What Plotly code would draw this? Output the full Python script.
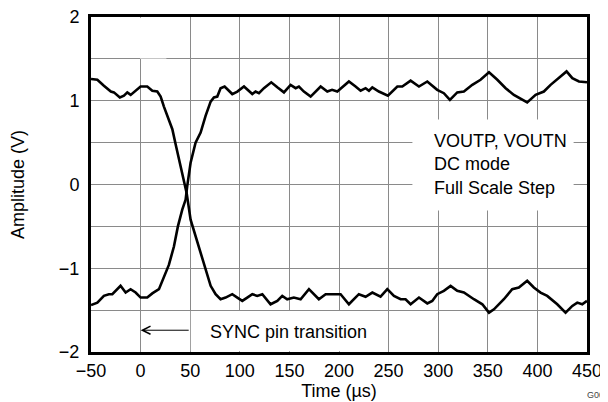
import plotly.graph_objects as go

# falling output (starts high, ends low)
t_fall = [-50, -43.6, -37, -30, -26.9,
          -20.9, -16.8, -13.4, -10, -5,
          0, 6.7, 11.8, 16.8, 20.2,
          23.5, 27.5, 32, 35.3, 38.6,
          43, 46.4, 50.4, 55.4, 60.5,
          65.5, 70.6, 75.6, 80.6, 85.7,
          92.4, 97.5, 102.5, 107.5, 112.6,
          117.6, 122.7, 131, 137.8, 142.8,
          147.8, 154.5, 161.3, 169.7, 174.7,
          179.7, 186.5, 194.9, 201.6, 210,
          220, 226.8, 233.6, 241.9, 248.7,
          255.4, 262.1, 267.1, 272.2, 280.6,
          289, 294, 299, 305.7, 312.5,
          319.2, 325.9, 336, 344.5, 351.2,
          356.2, 366.2, 374.6, 381.3, 389.7,
          396.4, 403.2, 409.9, 420, 428.4,
          435.2, 440.2, 445.2, 450]
v_fall = [1.26, 1.25, 1.18, 1.11, 1.10,
          1.04, 1.06, 1.10, 1.07, 1.12,
          1.17, 1.17, 1.12, 1.11, 1.05,
          0.93, 0.80, 0.66, 0.48, 0.30,
          0.10, -0.10, -0.42, -0.62, -0.82,
          -1.01, -1.21, -1.31, -1.37, -1.35,
          -1.31, -1.35, -1.39, -1.35, -1.31,
          -1.33, -1.31, -1.43, -1.39, -1.33,
          -1.37, -1.35, -1.37, -1.25, -1.31,
          -1.37, -1.31, -1.31, -1.31, -1.43,
          -1.31, -1.34, -1.29, -1.34, -1.25,
          -1.33, -1.37, -1.37, -1.43, -1.35,
          -1.42, -1.39, -1.31, -1.27, -1.21,
          -1.27, -1.29, -1.37, -1.43, -1.53,
          -1.49, -1.37, -1.25, -1.23, -1.15,
          -1.23, -1.29, -1.33, -1.43, -1.53,
          -1.45, -1.41, -1.43, -1.39]

# rising output (starts low, ends high)
t_rise = [-50, -43.6, -37, -32, -28.5,
          -20.2, -15.1, -10.1, -5, 0,
          6.7, 11.8, 18.5, 23.5, 28.5,
          33.6, 37.6, 42, 45.4, 47,
          50.4, 55.4, 60.5, 65.5, 70.6,
          73.9, 77.3, 80.6, 84.7, 92.4,
          97.5, 104.2, 112.6, 115.9, 119.3,
          124.3, 131.7, 137.8, 144.5, 151.2,
          156.3, 159.6, 164.6, 171.4, 181.5,
          188.2, 193, 198.3, 210, 216.7,
          221.8, 226.8, 230.2, 233.6, 240.2,
          249.3, 258.8, 263.8, 272.2, 280.6,
          289, 299, 305.7, 311.8, 319.2,
          325.9, 334.4, 342.7, 351.2, 359.6,
          368, 376.3, 389.7, 398.2, 406.5,
          413.3, 420, 429.4, 435.2, 441.9,
          450]
v_rise = [-1.44, -1.41, -1.33, -1.31, -1.31,
          -1.21, -1.29, -1.25, -1.29, -1.35,
          -1.35, -1.30, -1.25, -1.11, -0.96,
          -0.74, -0.50, -0.30, -0.18, -0.02,
          0.26, 0.50, 0.62, 0.82, 0.99,
          1.04, 1.05, 1.15, 1.17, 1.08,
          1.11, 1.17, 1.08, 1.11, 1.09,
          1.15, 1.22, 1.16, 1.10, 1.19,
          1.15, 1.17, 1.11, 1.05, 1.17,
          1.11, 1.13, 1.11, 1.23, 1.17,
          1.12, 1.15, 1.12, 1.16, 1.11,
          1.06, 1.17, 1.17, 1.24, 1.17,
          1.23, 1.13, 1.09, 1.01, 1.10,
          1.11, 1.19, 1.25, 1.34, 1.25,
          1.15, 1.07, 0.98, 1.07, 1.11,
          1.19, 1.26, 1.35, 1.27, 1.23,
          1.22]

y_tickvals = [-2, -1.5, -1, -0.5, 0, 0.5, 1, 1.5, 2]
y_ticktext = ["\u22122", "", "\u22121", "", "0", "", "1", "", "2"]

FONT = "Liberation Sans, Arial, sans-serif"
GRID = "#8a8a8a"

fig = go.Figure()

fig.add_trace(go.Scatter(x=t_fall, y=v_fall, mode="lines", name="VOUTP",
                         line=dict(color="black", width=2.6)))
fig.add_trace(go.Scatter(x=t_rise, y=v_rise, mode="lines", name="VOUTN",
                         line=dict(color="black", width=2.6)))

# white boxes that hide the grid behind labels
boxes = [(-0.6, 26, 1.505, 1.99), (274, 436.5, -0.31, 0.776), (50.6, 240, -1.99, -1.51)]
for x0, x1, y0, y1 in boxes:
    fig.add_shape(type="rect", xref="x", yref="y", x0=x0, x1=x1, y0=y0, y1=y1,
                  fillcolor="white", line=dict(width=0), layer="between")

fig.add_annotation(x=293.5, y=0.233, xref="x", yref="y", xanchor="left", yanchor="middle",
                   align="left", showarrow=False,
                   text="VOUTP, VOUTN<br>DC mode<br>Full Scale Step",
                   font=dict(family=FONT, size=18, color="black"))

fig.add_annotation(x=67.5, y=-1.76, xref="x", yref="y", xanchor="left", yanchor="middle",
                   showarrow=False, text="SYNC pin transition",
                   font=dict(family=FONT, size=18, color="black"))

fig.add_annotation(x=0, y=-1.74, xref="x", yref="y", ax=50, ay=-1.74, axref="x", ayref="y",
                   text="", showarrow=True, arrowhead=5, arrowsize=1.6, arrowwidth=1,
                   arrowcolor="black")

fig.add_annotation(x=0.996, y=-0.149, xref="paper", yref="paper", xanchor="left", yanchor="bottom",
                   showarrow=False, text="G000",
                   font=dict(family=FONT, size=9, color="#444"))

# page body has an 8px margin, so the figure is 8px smaller each way
fig.update_layout(
    width=600, height=394,
    margin=dict(l=83, r=21, t=9, b=50),
    paper_bgcolor="white", plot_bgcolor="white",
    showlegend=False,
    font=dict(family=FONT, size=18, color="black"),
)

fig.update_xaxes(range=[-50, 450], dtick=50, tick0=0, automargin=False,
                 showgrid=True, gridcolor=GRID, gridwidth=1, zeroline=False,
                 showline=True, linecolor="black", linewidth=3, mirror=True,
                 ticks="", ticklabelstandoff=0, ticklabeloverflow="allow",
                 title=dict(text="Time (\u00b5s)", standoff=2, font=dict(size=18)))
fig.update_yaxes(range=[-2, 2], tickvals=y_tickvals, ticktext=y_ticktext, automargin=False,
                 showgrid=True, gridcolor=GRID, gridwidth=1, zeroline=False,
                 showline=True, linecolor="black", linewidth=3, mirror=True,
                 ticks="", ticklabelstandoff=5, ticklabeloverflow="allow",
                 title=dict(text="Amplitude (V)", standoff=30, font=dict(size=18)))

fig.write_html("out.html")
